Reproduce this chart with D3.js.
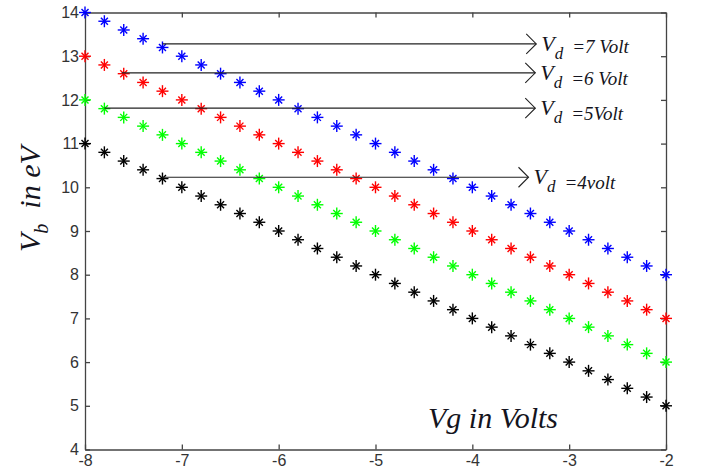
<!DOCTYPE html>
<html lang="en">
  <head>
    <meta charset="UTF-8" />
    <title>Vb vs Vg</title>
    <style type="text/css">
      html,
      body {
        margin: 0;
        padding: 0;
        background: #fff;
      }
      svg {
        display: block;
      }
      .tick text {
        font-family: "Liberation Sans", Arial, sans-serif;
        font-size: 16px;
        fill: #333;
      }
      .axis path,
      .axis line {
        stroke: #444;
        stroke-width: 1.3;
      }
      .serif {
        font-family: "Liberation Serif", "Times New Roman", serif;
        font-style: italic;
        fill: #141420;
        white-space: pre;
      }
    </style>
  </head>
  <body>
    <script src="https://cdn.jsdelivr.net/npm/d3@7/dist/d3.min.js"></script>
    <script>
      // === Data === //

      var vg = [-8, -7.8, -7.6, -7.4, -7.2, -7, -6.8, -6.6, -6.4, -6.2, -6,
        -5.8, -5.6, -5.4, -5.2, -5, -4.8, -4.6, -4.4, -4.2, -4,
        -3.8, -3.6, -3.4, -3.2, -3, -2.8, -2.6, -2.4, -2.2, -2];

      var vd7 = [14, 13.8, 13.6, 13.4, 13.2, 13, 12.8, 12.6, 12.4, 12.2, 12,
        11.8, 11.6, 11.4, 11.2, 11, 10.8, 10.6, 10.4, 10.2, 10,
        9.8, 9.6, 9.4, 9.2, 9, 8.8, 8.6, 8.4, 8.2, 8];
      var vd6 = [13, 12.8, 12.6, 12.4, 12.2, 12, 11.8, 11.6, 11.4, 11.2, 11,
        10.8, 10.6, 10.4, 10.2, 10, 9.8, 9.6, 9.4, 9.2, 9,
        8.8, 8.6, 8.4, 8.2, 8, 7.8, 7.6, 7.4, 7.2, 7];
      var vd5 = [12, 11.8, 11.6, 11.4, 11.2, 11, 10.8, 10.6, 10.4, 10.2, 10,
        9.8, 9.6, 9.4, 9.2, 9, 8.8, 8.6, 8.4, 8.2, 8,
        7.8, 7.6, 7.4, 7.2, 7, 6.8, 6.6, 6.4, 6.2, 6];
      var vd4 = [11, 10.8, 10.6, 10.4, 10.2, 10, 9.8, 9.6, 9.4, 9.2, 9,
        8.8, 8.6, 8.4, 8.2, 8, 7.8, 7.6, 7.4, 7.2, 7,
        6.8, 6.6, 6.4, 6.2, 6, 5.8, 5.6, 5.4, 5.2, 5];

      var seriesColors = ["#0000ff", "#ff0000", "#00ff00", "#000000"];

      var xTicks = [-8, -7, -6, -5, -4, -3, -2];
      var yTicks = [4, 5, 6, 7, 8, 9, 10, 11, 12, 13, 14];

      // annotation arrows: start x, end x, y (data units) and label
      var arrowX0 = [-7.2, -7.62, -7.8, -7.2];
      var arrowX1 = [-3.34, -3.35, -3.35, -3.42];
      var arrowY = [13.28, 12.62, 11.81, 10.23];
      var arrowText = ["=7 Volt", "=6 Volt", "=5Volt", "=4volt"];

      // === Canvas === //

      var width = 701,
        height = 476;
      var mLeft = 85,
        mRight = 666,
        mTop = 12.5,
        mBottom = 449.5;

      var svg = d3
        .select("body")
        .append("svg")
        .attr("width", width)
        .attr("height", height);

      var x = d3.scaleLinear().domain([-8, -2]).range([mLeft, mRight]);
      var y = d3.scaleLinear().domain([4, 14]).range([mBottom, mTop]);

      var plain = function(d) {
        return String(d);
      };

      // === Axes (box, ticks inside) === //

      svg
        .append("g")
        .attr("class", "axis")
        .attr("transform", "translate(0," + mBottom + ")")
        .call(
          d3.axisBottom(x).tickValues(xTicks).tickFormat(plain)
            .tickSizeInner(-5).tickSizeOuter(0).tickPadding(5)
        );

      svg
        .append("g")
        .attr("class", "axis")
        .attr("transform", "translate(0," + mTop + ")")
        .call(d3.axisTop(x).tickValues(xTicks).tickSizeInner(-5).tickSizeOuter(0).tickFormat(""));

      svg
        .append("g")
        .attr("class", "axis")
        .attr("transform", "translate(" + mLeft + ",0)")
        .call(
          d3.axisLeft(y).tickValues(yTicks).tickFormat(plain)
            .tickSizeInner(-5).tickSizeOuter(0).tickPadding(6)
        );

      svg
        .append("g")
        .attr("class", "axis")
        .attr("transform", "translate(" + mRight + ",0)")
        .call(d3.axisRight(y).tickValues(yTicks).tickSizeInner(-5).tickSizeOuter(0).tickFormat(""));

      // === Markers (matlab style asterisk) === //

      var series = [vd7, vd6, vd5, vd4];

      function star(g, color) {
        var a = 6,
          b = 3.5;
        g.append("line").attr("x1", -a).attr("x2", a).attr("y1", 0).attr("y2", 0);
        g.append("line").attr("x1", 0).attr("x2", 0).attr("y1", -a).attr("y2", a);
        g.append("line").attr("x1", -b).attr("x2", b).attr("y1", -b).attr("y2", b);
        g.append("line").attr("x1", -b).attr("x2", b).attr("y1", b).attr("y2", -b);
        g.selectAll("line").attr("stroke", color).attr("stroke-width", 1.4);
      }

      series.forEach(function(vals, si) {
        svg
          .append("g")
          .selectAll("g")
          .data(vals)
          .enter()
          .append("g")
          .attr("transform", function(d, i) {
            return "translate(" + x(vg[i]) + "," + y(d) + ")";
          })
          .each(function() {
            star(d3.select(this), seriesColors[si]);
          });
      });

      // === Annotations === //

      arrowY.forEach(function(v, i) {
        var x0 = x(arrowX0[i]),
          x1 = x(arrowX1[i]),
          yy = y(v);
        svg
          .append("line")
          .attr("x1", x0)
          .attr("x2", x1)
          .attr("y1", yy)
          .attr("y2", yy)
          .attr("stroke", "#222")
          .attr("stroke-width", 1.2);
        svg
          .append("path")
          .attr("d", "M" + (x1 - 10) + "," + (yy - 10) + "L" + x1 + "," + yy + "L" + (x1 - 10) + "," + (yy + 10))
          .attr("fill", "none")
          .attr("stroke", "#222")
          .attr("stroke-width", 1.1);

        var t = svg
          .append("text")
          .attr("class", "serif")
          .attr("x", x1 + 5)
          .attr("y", yy + 7)
          .style("font-size", "22px");
        t.append("tspan").text("V");
        t.append("tspan").attr("dy", 8).style("font-size", "17px").text("d");
        t.append("tspan")
          .attr("x", x1 + 36)
          .attr("dy", i === 0 ? -6 : -3)
          .style("font-size", "19px")
          .text(arrowText[i]);
      });

      // === Axis titles === //

      svg
        .append("text")
        .attr("class", "serif")
        .attr("x", 428)
        .attr("y", 428)
        .style("font-size", "30px")
        .text("Vg in Volts");

      var yl = svg
        .append("text")
        .attr("class", "serif")
        .attr("transform", "translate(40,252) rotate(-90)")
        .style("font-size", "30px");
      yl.append("tspan").text("V");
      yl.append("tspan").attr("dy", 8).style("font-size", "20px").text("b");
      yl.append("tspan").attr("dy", -8).text("  in eV");
    </script>
  </body>
</html>
